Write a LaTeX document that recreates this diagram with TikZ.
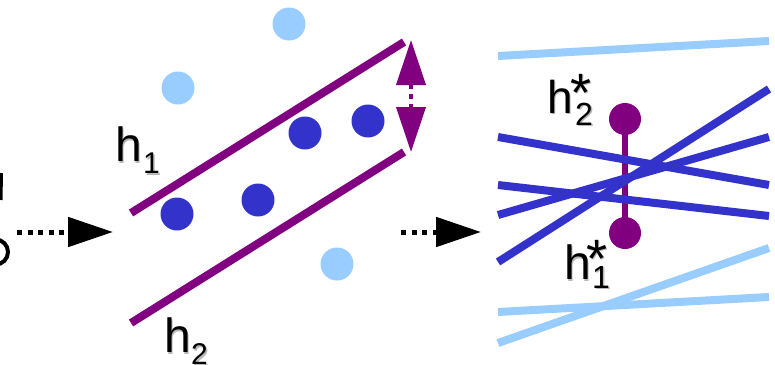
\documentclass[tikz,border=0pt]{standalone}
\usepackage{fontspec}
\setmainfont{Liberation Sans}
\usetikzlibrary{arrows.meta}
\definecolor{pur}{HTML}{800080}
\definecolor{dblue}{HTML}{3333CC}
\definecolor{lblue}{HTML}{99CCFF}
\newcommand\lbltxt[4]{%
  \node[txtshadow,font=\fontsize{#3}{#3}\selectfont] (#1s) at (#2) {#4};
  \node[txt,font=\fontsize{#3}{#3}\selectfont] (#1) at (#2) {#4};}
\tikzset{
  txt/.style={anchor=north west, inner sep=0pt, outer sep=0pt, text=black},
  txtshadow/.style={txt, text=black!28, xshift=1.5pt, yshift=-1.5pt},
  purline/.style={pur, line width=8pt},
  rline/.style={line width=8pt},
  ddot/.style={circle, fill=dblue, minimum size=33pt, inner sep=0pt},
  ldot/.style={circle, fill=lblue, minimum size=33pt, inner sep=0pt},
  pball/.style={circle, fill=pur, minimum size=32pt, inner sep=0pt},
  dotarrow/.style={black, line width=5pt, dash pattern=on 5pt off 5.5pt,
    -{Triangle[length=45pt,width=29pt]}},
  dblarrow/.style={pur, line width=4pt, dash pattern=on 5pt off 5pt,
    {Triangle[length=45pt,width=29pt]}-{Triangle[length=45pt,width=29pt]}},
}
\begin{document}
\begin{tikzpicture}[x=1pt,y=-1pt]
\useasboundingbox (0,0) rectangle (775,364);
\clip (0,0) rectangle (775,364);

% cut-off text fragments at left edge
\draw[line width=3pt] (1.5,173) -- (1,200);
\draw[line width=4pt] (-4.5,252) circle (12.5);

% first dotted arrow
\coordinate (a1s) at (17,232);
\coordinate (a1e) at (113,232);
\draw[dotarrow] (a1s) -- (a1e);

% middle panel: light dots
\node[ldot] (l1) at (289,24) {};
\node[ldot] (l2) at (178,88) {};
\node[ldot] (l3) at (337,264) {};
% dark dots
\node[ddot] (d1) at (177,214) {};
\node[ddot] (d2) at (258,200) {};
\node[ddot] (d3) at (305,133) {};
\node[ddot] (d4) at (368,121) {};

% margin lines
\coordinate (h1a) at (131,213);
\coordinate (h1b) at (404,42);
\coordinate (h2a) at (131,323);
\coordinate (h2b) at (404,152);
\draw[purline] (h1a) -- (h1b);
\draw[purline] (h2a) -- (h2b);

% double arrow
\coordinate (m1) at (411,40);
\coordinate (m2) at (411,152);
\draw[dblarrow] (m1) -- (m2);

% labels h1, h2
\lbltxt{h1}{115,127}{48}{h}
\lbltxt{h1sub}{143,153}{30}{1}
\lbltxt{h2}{164,318}{48}{h}
\lbltxt{h2sub}{191,344}{30}{2}

% second dotted arrow
\coordinate (a2s) at (401,232);
\coordinate (a2e) at (481,232);
\draw[dotarrow] (a2s) -- (a2e);

% right panel: light lines
\coordinate (t1a) at (498,56);  \coordinate (t1b) at (769,41);
\coordinate (b1a) at (498,312); \coordinate (b1b) at (769,297);
\coordinate (b2a) at (498,343); \coordinate (b2b) at (769,248);
\draw[rline, lblue] (t1a) -- (t1b);
\draw[rline, lblue] (b1a) -- (b1b);
\draw[rline, lblue] (b2a) -- (b2b);

% dark lines
\coordinate (k1a) at (498,137); \coordinate (k1b) at (769,185);
\coordinate (k2a) at (498,185); \coordinate (k2b) at (769,216);
\coordinate (k3a) at (498,215); \coordinate (k3b) at (769,137);
\coordinate (k4a) at (498,262); \coordinate (k4b) at (769,89);

% dumbbell
\node[pball] (p2) at (625,119) {};
\node[pball] (p1) at (625,233) {};
\draw[pur, line width=6pt] (p2.center) -- (p1.center);

\draw[rline, dblue] (k1a) -- (k1b);
\draw[rline, dblue] (k2a) -- (k2b);
\draw[rline, dblue] (k3a) -- (k3b);
\draw[rline, dblue] (k4a) -- (k4b);

% labels h*_2, h*_1
\lbltxt{hs2}{547,80}{46}{h}
\lbltxt{hs2star}{570,74}{54}{*}
\lbltxt{hs2sub}{575,103}{32}{2}
\lbltxt{hs1}{564,245}{48}{h}
\lbltxt{hs1star}{586,240}{54}{*}
\lbltxt{hs1sub}{592,266}{32}{1}
\end{tikzpicture}
\end{document}
